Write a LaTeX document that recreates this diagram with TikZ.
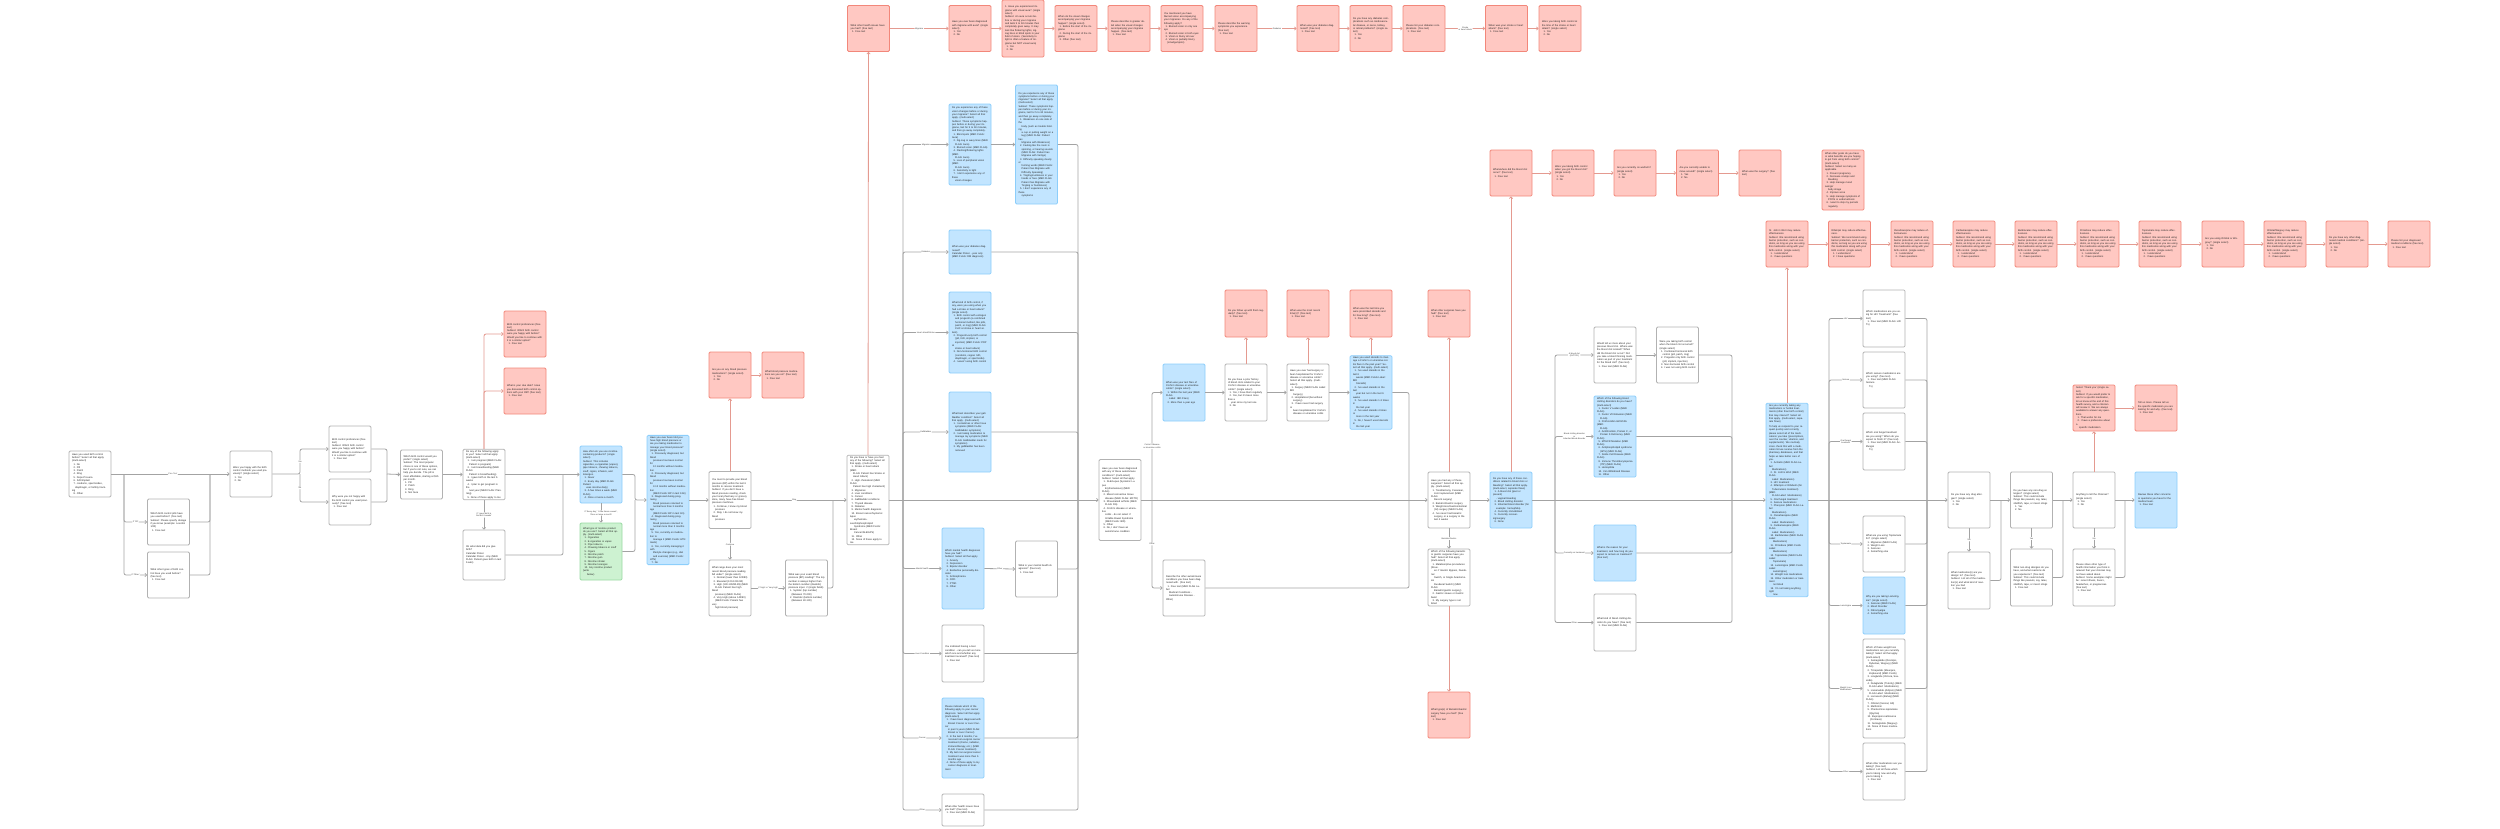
\documentclass[tikz,border=0pt]{standalone}
\usepackage{fontspec}
\setmainfont{Liberation Sans}
\usepackage{tikz}
\usetikzlibrary{arrows.meta,positioning,calc}

\definecolor{redfill}{HTML}{FFC8C2}
\definecolor{reddraw}{HTML}{F2877A}
\definecolor{redline}{HTML}{E49A90}
\definecolor{bluefill}{HTML}{C2E5FF}
\definecolor{bluedraw}{HTML}{8CCEFB}
\definecolor{greenfill}{HTML}{CDF2D1}
\definecolor{greendraw}{HTML}{98D9A3}
\definecolor{boxgray}{HTML}{B2B2B2}
\definecolor{linkgray}{HTML}{A3A3A3}

\newcommand{\opt}[1]{\\\hspace*{1.5pt}#1}

\begin{document}
\begin{tikzpicture}[x=1pt, y=-1pt, font=\fontsize{2.5}{3.3}\selectfont,
  qbox/.style={draw=boxgray, line width=0.8pt, rounded corners=1.2pt, fill=white,
    minimum width=42pt, minimum height=46pt, text width=36pt, inner xsep=3pt,
    inner ysep=1pt, align=left, text=black!85},
  redq/.style={qbox, draw=reddraw, fill=redfill},
  blueq/.style={qbox, draw=bluedraw, fill=bluefill},
  greenq/.style={qbox, draw=greendraw, fill=greenfill},
  mline/.style={draw=linkgray, line width=0.8pt, rounded corners=2pt},
  link/.style={mline, -{Straight Barb[length=1.6pt,width=3.4pt]}},
  rlink/.style={link, draw=redline},
  lbl/.style={fill=white, inner sep=0.6pt, font=\fontsize{2.1}{2.5}\selectfont,
    align=center, text=black!75}]

\useasboundingbox (0,0) rectangle (2500,828);

% --- birth control history
\node[qbox] (b1) at (90,474) {Have you used birth control before? Select all that apply. (multi-select)\opt{1. No}\opt{2. Pill}\opt{3. Patch}\opt{4. Ring}\opt{5. Depo-Provera}\opt{6. IUD/Implant}\opt{7. condoms, spermicides,}\opt{\ \ diaphragm, or fertility tracking}\opt{8. Other}};
\node[qbox] (b2) at (168.5,522) {Which birth control pills have you used before? (free text)\\Subtext: Please specify dosage if you know (example: Loestrin 1/20)\opt{1. Free text}};
\node[qbox] (b3) at (168.5,575) {What other types of birth control have you used before? (free text)\opt{1. Free text}};
\node[qbox] (b4) at (251,474) {Were you happy with the birth control methods you used previously? (single select)\opt{1. Yes}\opt{2. No}};
\node[qbox] (b5) at (350,449) {Birth control preferences (free text)\\Subtext: Which birth control were you happy with before? Would you like to continue with it or a similar option?\opt{1. Free text}};
\node[qbox] (b6) at (350,502) {Why were you not happy with the birth control you used previously? (free text)\opt{1. Free text}};
\node[qbox, minimum height=49] (b7) at (421.5,474.5) {Which birth control would you prefer? (single select)\\Subtext: The most popular choice is one of these options, but if you're not sure, we can help you decide. The pill is most affordable, starting at \$15 per month.\opt{1. Pill}\opt{2. Patch}\opt{3. Ring}\opt{4. Not Sure}};
\node[qbox, minimum height=49] (b8) at (484,474.5) {Do any of the following apply to you? Select all that apply. (multi-select)\opt{1. I am pregnant (MED FLAG:}\opt{\ \ Patient is pregnant)}\opt{2. I am breastfeeding (MED FLAG:}\opt{\ \ Patient is breastfeeding)}\opt{3. I gave birth in the last 6 weeks}\opt{4. I plan to get pregnant in the}\opt{\ \ next year (MED FLAG: Planning)}\opt{5. None of these apply to me}};
\node[qbox, minimum height=50] (b9) at (484,555) {On what date did you give birth?\\Calendar Picker\\Calendar Picker - Any (MED FLAG: Patient gave birth in last 6 wks)};
\node[redq] (r1) at (525,334) {Birth control preferences (free text)\\Subtext: Which birth control were you happy with before? Would you like to continue with it or a similar option?\opt{1. Free text}};
\node[redq] (r2) at (525,391) {What is your due date? Have you discussed birth control options with your OB? (free text)\opt{1. Free text}};

% --- nicotine and blood pressure
\node[blueq, minimum height=57] (b10) at (601,474.5) {How often do you use nicotine-containing products? (single select)\\Subtext: This includes cigarettes, e-cigarettes (vapes), pipe tobacco, chewing tobacco, snuff, cigars, inhalers, and lozenges.\opt{1. Never}\opt{2. Every day (MED FLAG: Patient}\opt{\ \ uses nicotine daily)}\opt{3. A few times a week (MED FLAG)}\opt{4. Once or twice a month}};
\node[greenq, minimum height=57] (b11) at (601,551.5) {What type of nicotine product do you use? Select all that apply. (multi-select)\opt{1. Cigarettes}\opt{2. E-cigarettes or vapes}\opt{3. Pipe tobacco}\opt{4. Chewing tobacco or snuff}\opt{5. Cigars}\opt{6. Nicotine patch}\opt{7. Nicotine gum}\opt{8. Nicotine inhaler}\opt{9. Nicotine lozenges}\opt{10. Any nicotine product (write}\opt{\ \ \ below)}};
\node[blueq, minimum height=108] (b12) at (668,500) {Have you ever been told you have high blood pressure or are you taking medication to manage your blood pressure? (single select)\opt{1. Previously diagnosed, but blood}\opt{\ \ pressure has been normal for}\opt{\ \ 12 months without medication}\opt{2. Previously diagnosed, but blood}\opt{\ \ pressure has been normal for}\opt{\ \ 3-12 months without medication}\opt{\ \ (MED FLAG: BP in last 12m)}\opt{3. Diagnosed during pregnancy,}\opt{\ \ blood pressure returned to}\opt{\ \ normal less than 3 months ago}\opt{\ \ (MED FLAG: BP in last 3m)}\opt{4. Diagnosed during pregnancy,}\opt{\ \ blood pressure returned to}\opt{\ \ normal more than 3 months ago}\opt{5. Yes, currently on medication to}\opt{\ \ manage it (MED FLAG: HTN meds)}\opt{6. Yes, currently managing it with}\opt{\ \ lifestyle changes (e.g., diet}\opt{\ \ and exercise) (MED FLAG: HTN)}\opt{7. No}};
\node[qbox, minimum height=57] (b13) at (730,500) {You must to provide your blood pressure (BP) within the last 6 months to receive treatment.\\Subtext: If you don't have a blood pressure reading, check your local pharmacy or grocery store, many have free blood pressure machines.\opt{1. Continue, I know my blood}\opt{\ \ pressure}\opt{2. Skip, I do not know my blood}\opt{\ \ pressure}};
\node[qbox, minimum height=56] (b15) at (730,588) {What range does your most recent blood pressure reading fall under? (single select)\opt{1. Normal (lower than 120/80)}\opt{2. Elevated (120-129/<80)}\opt{3. High (130-139/80-89) (MED}\opt{\ \ FLAG: Patient has high blood}\opt{\ \ pressure) (MED FLAG)}\opt{4. Very High (above 140/90)}\opt{\ \ (MED FLAG: Patient has very}\opt{\ \ high blood pressure)}};
\node[qbox, minimum height=56] (b16) at (806.5,588) {What was your exact blood pressure (BP) reading? The top number is always higher than the bottom number (diastolic) pressure input. 2 (single fields)\opt{1. Systolic (top number)}\opt{\ \ (Between 70-200)}\opt{2. Diastolic (bottom number)}\opt{\ \ (Between 40-130)}};
\node[redq] (r3) at (730,375) {Are you on any blood pressure medications? (single select)\opt{1. Yes}\opt{2. No}};
\node[redq] (r4) at (783,375) {What blood pressure medications are you on? (free text)\opt{1. Free text}};

% --- medical conditions
\node[qbox, minimum height=81] (b14) at (868,500) {Do you have or have you had any of the following? Select all that apply. (multi-select)\opt{1. Stroke or heart attack (MED}\opt{\ \ FLAG: Patient has Stroke or}\opt{\ \ Heart Attack)}\opt{2. High cholesterol (MED FLAG:}\opt{\ \ Patient has high cholesterol)}\opt{3. Migraines}\opt{4. Liver conditions}\opt{5. Cancer}\opt{6. Gallbladder conditions}\opt{7. Thyroid disease}\opt{8. Diabetes}\opt{9. Mental health diagnosis}\opt{10. Breast cancer/Systemic lupus}\opt{\ \ \ erythematosus/Antiphospholipid}\opt{\ \ \ Syndrome (MED FLAG: Breast}\opt{\ \ \ Cancer/SLE/APS)}\opt{11. Other}\opt{12. None of these apply to me}};

\node[redq] (r5) at (868.5,28.5) {What other health issues have you had? (free text)\opt{1. Free text}};
\node[redq] (r6) at (970,28.5) {Have you ever been diagnosed with migraine with aura? (single select)\opt{1. Yes}\opt{2. No}};
\node[redq, minimum height=57] (r7) at (1023,28.5) {1. Have you experienced migraine with visual aura? (single select)\\Subtext: An aura occurs before or during your migraine and lasts 5 to 60 minutes then completely goes away. It may look like flickering lights, zig-zag lines or blind spots in your field of vision. (Sensitivity to light is often a feature of migraine but NOT visual aura)\opt{1. Yes}\opt{2. No}};
\node[redq] (r8) at (1076,28.5) {When do the visual changes accompanying your migraine happen? (single select)\opt{1. Before the start of the migraine}\opt{2. During the start of the migraine}\opt{3. Other (free text)}};
\node[redq] (r9) at (1129,28.5) {Please describe in greater detail when the visual changes accompanying your migraine happen. (free text)\opt{1. Free text}};
\node[redq] (r10) at (1182,28.5) {You mentioned you have blurred vision accompanying your migraines. Do any of the following apply?\opt{1. Blurred vision in only one eye}\opt{2. Blurred vision in both eyes}\opt{3. Vision is blurry all over}\opt{4. Vision is partially blurry}\opt{\ \ (smudge/spots)}};
\node[redq] (r11) at (1236,28.5) {Please describe the warning symptoms you experience. (free text)\opt{1. Free text}};
\node[redq] (r12) at (1318,28.5) {When was your diabetes diagnosed? (free text)\opt{1. Free text}};
\node[redq] (r13) at (1371,28.5) {Do you have any diabetes complications such as cardiovascular disease, or nerve, kidney, or retinal problems? (single select)\opt{1. Yes}\opt{2. No}};
\node[redq] (r14) at (1424,28.5) {Please list your diabetes complications. (free text)\opt{1. Free text}};
\node[redq] (r15) at (1506.5,28.5) {When was your stroke or heart attack? (free text)\opt{1. Free text}};
\node[redq] (r16) at (1560,28.5) {Were you taking birth control at the time of the stroke or heart attack? (single select)\opt{1. Yes}\opt{2. No}};

\node[blueq, minimum height=81] (c1) at (970,144.5) {Do you experience any of these vision changes before or during your migraine? Select all that apply. (multi-select)\\Subtext: These symptoms happen before or during your migraine, last for 5 to 60 minutes, and then go away completely.\opt{1. Blind spots (MED FLAG: Aura)}\opt{2. Zig-zag or wavy lines (MED}\opt{\ \ FLAG: Aura)}\opt{3. Blurred vision (MED FLAG)}\opt{4. Flashing/flickering lights (MED}\opt{\ \ FLAG: Aura)}\opt{5. Loss of peripheral vision (MED}\opt{\ \ FLAG: Aura)}\opt{6. Sensitivity to light}\opt{7. I don't experience any of these}\opt{\ \ vision changes}};
\node[blueq, minimum height=119] (c2) at (1036.5,144.5) {Do you experience any of these symptoms before or during your migraine? Select all that apply. (multi-select)\\Subtext: These symptoms happen before or during your migraine, last for 5 to 60 minutes, and then go away completely.\opt{1. Weakness on one side of the}\opt{\ \ body (such as trouble holding}\opt{\ \ a cup or putting weight on a}\opt{\ \ leg) (MED FLAG: Patient has}\opt{\ \ Migraine with Weakness)}\opt{2. Feeling like the room is}\opt{\ \ spinning, or hearing sounds}\opt{\ \ (MED FLAG: Patient has}\opt{\ \ Migraine with Vertigo)}\opt{3. Difficulty speaking clearly or}\opt{\ \ forming words (MED FLAG:}\opt{\ \ Patient has Migraine with}\opt{\ \ Difficulty Speaking)}\opt{4. Tingling/numbness in your}\opt{\ \ hands or face (MED FLAG:}\opt{\ \ Patient has Migraine with}\opt{\ \ Tingling or Numbness)}\opt{5. I don't experience any of these}\opt{\ \ symptoms}};
\node[blueq, minimum height=44] (c3) at (970,252) {When was your diabetes diagnosed?\\Calendar Picker - year only (MED FLAG: DM diagnosis)};
\node[blueq, minimum height=81] (c4) at (970,332.5) {What kind of birth control, if any, were you using when you had a stroke or heart attack? (single select)\opt{1. Birth control with estrogen}\opt{\ \ and progestin (a combined}\opt{\ \ hormonal method, like pills,}\opt{\ \ patch, or ring) (MED FLAG:}\opt{\ \ CHC at stroke or heart attack)}\opt{2. Progestin-only birth control}\opt{\ \ (pill, IUD, implant, or}\opt{\ \ injection) (MED FLAG: POP at}\opt{\ \ stroke or heart attack)}\opt{3. Non-hormonal birth control}\opt{\ \ (condoms, copper IUD,}\opt{\ \ diaphragm, or spermicide)}\opt{4. I wasn't using birth control}};
\node[blueq, minimum height=80] (c5) at (970,432) {What best describes your gallbladder condition? Select all that apply. (multi-select)\opt{1. I sometimes or often have}\opt{\ \ symptoms (MED FLAG:}\opt{\ \ Gallbladder symptoms)}\opt{2. I am taking medication to}\opt{\ \ manage my symptoms (MED}\opt{\ \ FLAG: Gallbladder meds for}\opt{\ \ symptoms)}\opt{3. My gallbladder has been}\opt{\ \ removed}};
\node[blueq, minimum height=81] (c6) at (963,568.5) {Which mental health diagnoses have you had?\\Subtext: Select all that apply\opt{1. Anxiety}\opt{2. Depression}\opt{3. Bipolar disorder}\opt{4. Borderline personality disorder}\opt{5. Schizophrenia}\opt{6. OCD}\opt{7. PTSD}\opt{8. Other}};
\node[qbox, minimum height=56] (c7) at (1036.5,569) {What is your mental health diagnosis? (free text)\opt{1. Free text}};
\node[qbox, minimum height=57] (c8) at (963,653.5) {You indicated having a liver condition - can you tell us more which one and whether any treatment received? (free text)\opt{1. Free text}};
\node[blueq, minimum height=80] (c9) at (963,738) {Please indicate which of the following apply to your cancer diagnosis. Select all that apply. (multi-select)\opt{1. I have been diagnosed with}\opt{\ \ Breast Cancer or Liver Cancer}\opt{\ \ in past 5 years (MED FLAG:}\opt{\ \ Breast or Liver Cancer)}\opt{2. In the last 6 months, I've}\opt{\ \ received non-surgical cancer}\opt{\ \ treatment (chemo, radiation,}\opt{\ \ immunotherapy, etc.) (MED}\opt{\ \ FLAG: Cancer treatment)}\opt{3. My last non-surgical cancer}\opt{\ \ treatment was more than 6}\opt{\ \ months ago}\opt{4. None of these apply to my}\opt{\ \ cancer diagnosis or treatment}};
\node[qbox, minimum height=32] (c10) at (963,810) {What other health issues have you had? (free text)\opt{1. Free text (MED FLAG)}};

% --- autoimmune
\node[qbox, minimum height=81] (b17) at (1120,500) {Have you ever been diagnosed with any of these autoimmune conditions? (multi-select)\\Subtext: Select all that apply\opt{1. SLE/Lupus (Systemic Lupus}\opt{\ \ Erythematosus) (MED FLAG)}\opt{2. Mixed connective tissue}\opt{\ \ disease (MED FLAG: MCTD)}\opt{3. Rheumatoid arthritis (MED}\opt{\ \ FLAG: RA)}\opt{4. Crohn's disease or ulcerative}\opt{\ \ colitis - do not select if}\opt{\ \ Irritable Bowel Syndrome}\opt{\ \ (MED FLAG: IBD)}\opt{5. Other}\opt{6. No, I don't have an}\opt{\ \ autoimmune condition}};
\node[blueq, minimum height=57] (c11) at (1184,392.5) {When was your last flare of Crohn's disease or ulcerative colitis? (single select)\opt{1. Within the last year (MED FLAG}\opt{\ \ Label: IBD Flare)}\opt{2. More than a year ago}};
\node[qbox, minimum height=57] (c12) at (1246,392.5) {Do you have a prior history of blood clots related to your Crohn's disease or ulcerative colitis? (single select)\opt{1. Yes, I have them regularly}\opt{2. Yes, but it's been more than a}\opt{\ \ year since my last one}\opt{3. No}};
\node[qbox, minimum height=57] (c14) at (1308,392.5) {Have you ever had surgery or been hospitalized for Crohn's disease or ulcerative colitis? Select all that apply. (multi-select)\opt{1. Surgery (MED FLAG Label: IBD}\opt{\ \ Surgery)}\opt{2. Hospitalized (but without}\opt{\ \ surgery)}\opt{3. I have never had surgery or}\opt{\ \ been hospitalized for Crohn's}\opt{\ \ disease or ulcerative colitis}};
\node[blueq, minimum height=65] (c15) at (1371,392.5) {Have you used steroids to manage a Crohn's or ulcerative colitis flare in the past year? Select all that apply. (multi-select)\opt{1. I've used steroids in the last 6}\opt{\ \ weeks (MED FLAG Label: IBD}\opt{\ \ Steroids)}\opt{2. I've used steroids in the last}\opt{\ \ year but not in the last 6 weeks}\opt{3. I've used steroids 1-3 times in}\opt{\ \ the last year}\opt{4. I've used steroids 4 times or}\opt{\ \ more in the last year}\opt{5. No, I haven't used steroids in}\opt{\ \ the last year}};
\node[qbox, minimum height=56] (c13) at (1184,588) {Describe the other autoimmune conditions you have been diagnosed with. (free text)\opt{1. Free text (MED FLAG Label:}\opt{\ \ Medical Conditions -}\opt{\ \ Autoimmune Disease - Other)}};
\node[redq, minimum height=47] (r22) at (1246,313.5) {Do you follow up with them regularly? (free text)\opt{1. Free text}};
\node[redq, minimum height=47] (r23) at (1308,313.5) {When was the most recent time(s)? (free text)\opt{1. Free text}};
\node[redq, minimum height=47] (r24) at (1371,313.5) {When was the last time you were prescribed steroids and for how long? (free text)\opt{1. Free text}};
\node[redq, minimum height=47] (r25) at (1449,313.5) {What other surgeries have you had? (free text)\opt{1. Free text}};

% --- surgeries and blood clots
\node[qbox, minimum height=56] (b18) at (1449,500) {Have you had any of these surgeries? Select all that apply. (multi-select)\opt{1. Tonsillectomy, Cesarean,}\opt{\ \ Joint replacement (MED FLAG:}\opt{\ \ Recent surgery)}\opt{2. Bariatric/Gastric surgery}\opt{3. Weight-loss/Gastrointestinal}\opt{\ \ (GI) surgery (MED FLAG)}\opt{4. I've never had bariatric}\opt{\ \ surgery, or a surgery in the}\opt{\ \ last 4 weeks}};
\node[qbox, minimum height=57] (b19) at (1449,577.5) {Which of the following bariatric or gastric surgeries have you had? Select all that apply. (multi-select)\opt{1. Malabsorptive procedures (Roux-}\opt{\ \ en-Y Gastric Bypass, Duodenal}\opt{\ \ Switch, or Single Anastomosis}\opt{\ \ Duodenal Switch) (MED FLAG:}\opt{\ \ Bariatric/gastric surgery)}\opt{2. Gastric sleeve or Gastric band}\opt{3. My surgery type is not listed}};
\node[redq] (r40) at (1449,715) {What type(s) of Bariatric/Gastric surgery have you had? (free text)\opt{1. Free text}};
\node[blueq, minimum height=56] (b20) at (1511,500) {Do you have any of these conditions related to blood clots or bleeding? Select all that apply. (multi-select, separate flows)\opt{1. A blood clot (past or present)}\opt{\ \ - vaginal bleeding}\opt{2. Blood clotting disorder}\opt{3. Inherited blood disorder (for}\opt{\ \ example: hemophilia)}\opt{4. Currently immobilized}\opt{5. Currently recovering/surgery}\opt{6. None}};
\node[redq] (r17) at (1511,173) {When/where did the blood clot occur? (free text)\opt{1. Free text}};
\node[redq] (r18) at (1573,173) {Were you taking birth control when you got the blood clot? (single select)\opt{1. Yes}\opt{2. No}};
\node[redq] (r19) at (1635,173) {Are you currently on warfarin? (single select)\opt{1. Yes}\opt{2. No}};
\node[redq] (r20) at (1697.5,173) {Are you currently unable to move around? (single select)\opt{1. Yes}\opt{2. No}};
\node[redq] (r21) at (1760,173) {When was the surgery? (free text)};
\node[qbox, minimum height=56] (c17) at (1615,355) {Would tell us more about your previous blood clot. Where was the blood clot located? When did the blood clot occur? Did you take a blood thinning medication as part of your treatment for the blood clot? (free text)\opt{1. Free text (MED FLAG)}};
\node[qbox, minimum height=56] (c18) at (1677.5,355) {Were you taking birth control when the blood clot occurred? (single select)\opt{1. Combined hormonal birth}\opt{\ \ control (pill, patch, ring)}\opt{2. Progestin only birth control}\opt{\ \ (pill, implant, injection)}\opt{3. Non-hormonal birth control}\opt{4. I was not using birth control}};
\node[blueq, minimum height=81] (c16) at (1615,436.5) {Which of the following blood clotting disorders do you have? (multi-select)\opt{1. Factor V Leiden (MED FLAG)}\opt{2. Factor VIII Elevation (MED}\opt{\ \ FLAG)}\opt{3. Prothrombin G20210A (MED}\opt{\ \ FLAG)}\opt{4. Antithrombin, Protein C, or}\opt{\ \ Protein S Deficiency (MED FLAG)}\opt{5. MTHFR Mutation (MED FLAG)}\opt{6. Antiphospholipid syndrome}\opt{\ \ (APS) (MED FLAG)}\opt{7. Sickle Cell Disease (MED FLAG)}\opt{8. Immune Thrombocytopenia}\opt{\ \ (ITP) (MED FLAG)}\opt{9. Hemophilia}\opt{10. Von Willebrand Disease}\opt{11. Other}};
\node[blueq, minimum height=56] (c19) at (1615,553) {What is the reason for your treatment, and how long do you expect to remain on treatment? (free text)};
\node[qbox, minimum height=57] (c20) at (1615,622.5) {What kind of blood clotting disorder do you have? (free text)\opt{1. Free text (MED FLAG)}};

% --- medications
\node[blueq, minimum height=184] (b21) at (1787,500) {Are you currently taking any medications or herbal treatments (other than birth control) that may interact? Select all that apply. (multi-select, separate flows)\\[1.5pt]To help us respond to your request quickly and correctly, please select all of the medications you take (prescriptions, over the counter, vitamins, and supplements). We routinely cross check this with a medication list we receive from the pharmacy databases, and that helps us take better care of you.\opt{1. Acitretin (MED FLAG Label:}\opt{\ \ Medications)}\opt{2. St. John's Wort (MED FLAG}\opt{\ \ Label: Medications)}\opt{3. HIV treatment}\opt{4. Rifampin or Rifabutin (for}\opt{\ \ Tuberculosis treatment) (MED}\opt{\ \ FLAG Label: Medications)}\opt{5. Oral fungal treatment}\opt{6. Seizure medications}\opt{7. Phenytoin (MED FLAG Label:}\opt{\ \ Medications)}\opt{8. Oxcarbazepine (MED FLAG}\opt{\ \ Label: Medications)}\opt{9. Carbamazepine (MED FLAG}\opt{\ \ Label: Medications)}\opt{10. Barbiturates (MED FLAG Label:}\opt{\ \ \ Medications)}\opt{11. Primidone (MED FLAG Label:}\opt{\ \ \ Medications)}\opt{12. Topiramate (MED FLAG Label:}\opt{\ \ \ Topiramate)}\opt{13. Lamotrigine (MED FLAG Label:}\opt{\ \ \ Lamotrigine)}\opt{14. Weight loss medications}\opt{15. Other medication or treatment}\opt{\ \ \ not listed}\opt{16. I'm not taking anything right}\opt{\ \ \ now}};
\node[redq, minimum height=60] (r26) at (1843,180) {What other goals do you have or what benefits are you hoping to get from using birth control? (multi-select)\\Subtext: Select as many as applicable.\opt{1. Prevent pregnancy}\opt{2. Decrease cramps and}\opt{\ \ bleeding}\opt{3. Help manage mood swings/}\opt{\ \ body image}\opt{4. Improve acne}\opt{5. Help manage symptoms of}\opt{\ \ PCOS or endometriosis}\opt{6. I want to skip my periods}\opt{\ \ regularly}};
\node[redq] (r27) at (1787,244) {St. John's Wort may reduce effectiveness.\\Subtext: We recommend using barrier protection, such as condoms, as long as you are using this medication along with your birth control. (single select)\opt{1. I understand}\opt{2. I have questions}};
\node[redq] (r28) at (1849.5,244) {Rifampin may reduce effectiveness.\\Subtext: We recommend using barrier protection, such as condoms, as long as you are using this medication along with your birth control. (single select)\opt{1. I understand}\opt{2. I have questions}};
\node[redq] (r29) at (1912,244) {Oxcarbazepine may reduce effectiveness.\\Subtext: We recommend using barrier protection, such as condoms, as long as you are using this medication along with your birth control. (single select)\opt{1. I understand}\opt{2. I have questions}};
\node[redq] (r30) at (1974,244) {Carbamazepine may reduce effectiveness.\\Subtext: We recommend using barrier protection, such as condoms, as long as you are using this medication along with your birth control. (single select)\opt{1. I understand}\opt{2. I have questions}};
\node[redq] (r31) at (2036,244) {Barbiturates may reduce effectiveness.\\Subtext: We recommend using barrier protection, such as condoms, as long as you are using this medication along with your birth control. (single select)\opt{1. I understand}\opt{2. I have questions}};
\node[redq] (r32) at (2098,244) {Primidone may reduce effectiveness.\\Subtext: We recommend using barrier protection, such as condoms, as long as you are using this medication along with your birth control. (single select)\opt{1. I understand}\opt{2. I have questions}};
\node[redq] (r33) at (2160,244) {Topiramate may reduce effectiveness.\\Subtext: We recommend using barrier protection, such as condoms, as long as you are using this medication along with your birth control. (single select)\opt{1. I understand}\opt{2. I have questions}};
\node[redq] (r34) at (2223,244) {Are you using Orlistat or Wegovy? (single select)\opt{1. Yes}\opt{2. No}};
\node[redq] (r35) at (2285,244) {Orlistat/Wegovy may reduce effectiveness.\\Subtext: We recommend using barrier protection, such as condoms, as long as you are using this medication along with your birth control. (single select)\opt{1. I understand}\opt{2. I have questions}};
\node[redq] (r36) at (2347,244) {Do you have any other diagnosed medical conditions? (single select)\opt{1. Yes}\opt{2. No}};
\node[redq] (r37) at (2409,244) {Please list your diagnosed medical conditions (free text)\opt{1. Free text}};

\node[qbox, minimum height=57] (d1) at (1884,318.5) {Which medications are you using for HIV Treatment? (free text)\opt{1. Free text (MED FLAG: HIV Tx)}};
\node[qbox, minimum height=56] (d2) at (1884,380) {Which seizure medications are you using? (free text)\opt{1. Free text (MED FLAG: Seizure}\opt{\ \ Tx)}};
\node[qbox, minimum height=57] (d3) at (1884,441.5) {Which oral fungal treatment are you using? When do you expect to finish it? (free text)\opt{1. Free text (MED FLAG: Antifungal}\opt{\ \ Tx)}};
\node[qbox, minimum height=56] (d4) at (1884,544) {What are you using Topiramate for? (single select)\opt{1. Migraines (MED FLAG)}\opt{2. Weight Loss}\opt{3. Seizures}\opt{4. Something else}};
\node[blueq, minimum height=57] (d5) at (1884,605.5) {Why are you taking Lamotrigine? (single select)\opt{1. Seizures (MED FLAG)}\opt{2. Mood Disorder}\opt{3. Fibromyalgia}\opt{4. Something else}};
\node[qbox, minimum height=99] (d6) at (1884,688.5) {Which of these weight loss medications are you currently taking? Select all that apply. (multi-select)\opt{1. Semaglutide (Ozempic,}\opt{\ \ Rybelsus, Wegovy) (MED FLAG)}\opt{2. Tirzepatide (Mounjaro,}\opt{\ \ Zepbound) (MED FLAG)}\opt{3. Liraglutide (Victoza, Saxenda)}\opt{4. Dulaglutide (Trulicity) (MED}\opt{\ \ FLAG Label: Medications)}\opt{5. Lixisenatide (Adlyxin) (MED}\opt{\ \ FLAG Label: Medications)}\opt{6. Lorcaserin (Belviq) (MED FLAG)}\opt{7. Orlistat (Xenical, Alli)}\opt{8. Metformin}\opt{9. Phentermine-topiramate}\opt{\ \ (Qsymia)}\opt{10. Bupropion-naltrexone}\opt{\ \ \ (Contrave)}\opt{11. Semaglutide (Wegovy)}\opt{12. None of these medications}};
\node[qbox, minimum height=57] (d7) at (1884,771.5) {What other medications are you taking? (free text)\\Subtext: List all those which you're taking now and why you're taking it.\opt{1. Free text}};

% --- allergies and closing
\node[qbox, minimum height=56] (b22) at (1969,500) {Do you have any drug allergies? (single select)\opt{1. Yes}\opt{2. No}};
\node[qbox, minimum height=57] (b23) at (1969,580.5) {What medication(s) are you allergic to? (free text)\\Subtext: List all of the medication(s) and what kind of reaction you had\opt{1. Free text}};
\node[qbox, minimum height=56] (b24) at (2031.5,500) {Do you have any non-drug allergies? (single select)\\Subtext: This could include things like peanuts, soy, latex, shellfish, tape, or insect stings\opt{1. Yes}\opt{2. No}};
\node[qbox, minimum height=57] (b25) at (2031.5,577.5) {What non-drug allergies do you have, and what reactions do you experience? (free text)\\Subtext: This could include things like peanuts, soy, latex, shellfish, tape, or insect stings\opt{1. Free text}};
\node[qbox, minimum height=56] (b26) at (2094,500) {Anything to tell the Clinician? (single select)\opt{1. Yes}\opt{2. No}};
\node[qbox, minimum height=57] (b27) at (2094,577.5) {Please share other type of health information you think is relevant that your clinician may not have asked about.\\Subtext: Some examples might be: recent illness, fevers, headaches, or pregnancies. (free text)\opt{1. Free text}};
\node[blueq, minimum height=56] (b28) at (2156,500) {Review these other concerns or questions you have for the medical team.\opt{1. Free text}};
\node[redq] (r38) at (2094,408) {Select `Thank you' (single select)\\Subtext: If you would prefer to ask for a specific medication, let us know at the end of this health survey, and a clinician will review it. We are always available to answer any questions.\opt{1. That works for me}\opt{2. I have a preference about a}\opt{\ \ specific medication}};
\node[redq] (r39) at (2156,408) {Tell us more. Please tell us the specific medication you are looking for and why. (free text)\opt{1. Free text}};

% junctions
\coordinate (s1) at (124,474);
\coordinate (s0) at (210,474);
\coordinate (s2) at (300,474);
\coordinate (s3) at (387,474);
\coordinate (s4) at (563,474.5);
\coordinate (s5) at (635,500);
\coordinate (s6) at (833,500);
\coordinate (j1) at (903,500);
\coordinate (j2) at (1078,500);
\coordinate (j3) at (1152,500);
\coordinate (j4) at (1409,500);
\coordinate (j5) at (1555,500);
\coordinate (j6) at (1732,500);
\coordinate (j7) at (1829,500);
\coordinate (j8) at (1927,500);
\coordinate (j9) at (2001,500);
\coordinate (j10) at (2063,500);
\coordinate (j11) at (2125,500);

% connectors, left part
\draw[link] (b1.east) -- node[lbl, pos=0.52]{If no `Yes'} (b4.west);
\draw[link] (s1) |- node[lbl, pos=0.75]{If `Pill'} (b2.west);
\draw[link] (s1) |- node[lbl, pos=0.75]{If `Other'} (b3.west);
\draw[mline] (b2.east) -| (s0);
\draw[mline] (b3.east) -| (s0);
\draw[link] (b4.east) -- (s2) |- node[lbl, pos=0.25]{Yes} (b5.west);
\draw[link] (s2) |- node[lbl, pos=0.25]{No} (b6.west);
\draw[mline] (b5.east) -| (s3);
\draw[mline] (b6.east) -| (s3);
\draw[link] (s3) -- (b7.west);
\draw[link] (b7.east) -- (b8.west);
\draw[rlink] (b8.north) |- (r1.west);
\draw[rlink] (b8.north) |- (r2.west);
\draw[link] (b8.south) -- node[lbl]{If `I gave birth in\\the last 6 weeks'} (b9.north);
\draw[mline] (b9.east) -| (s4);
\draw[link] (b8.east) -- (b10.west);
\draw[link] (b10.south) -- node[lbl]{If `Every day', `A few times a week',\\`Once or twice a month'} (b11.north);
\draw[link] (b10.east) -| (s5) -- (b12.west);
\draw[mline] (b11.east) -| (s5);
\draw[link] (b12.east) -- (b13.west);
\draw[rlink] (b13.north) -- (r3.south);
\draw[rlink] (r3.east) -- (r4.west);
\draw[link] (b13.south) -- node[lbl]{Continue} (b15.north);
\draw[link] (b15.east) -- node[lbl]{If `High' or `Very high'} (b16.west);
\draw[mline] (b16.east) -| (s6);
\draw[link] (b13.east) -- node[lbl, pos=0.45]{Skip} (b14.west);

% red chain on top
\draw[rlink] (b14.north) -- (r5.south);
\draw[rlink] (r5.east) -- node[lbl]{Migraine} (r6.west);
\foreach \a/\b in {r6/r7, r7/r8, r8/r9, r9/r10, r10/r11, r12/r13, r13/r14, r15/r16}
  \draw[rlink] (\a.east) -- (\b.west);
\draw[rlink] (r11.east) -- node[lbl]{Diabetes} (r12.west);
\draw[rlink] (r14.east) -- node[lbl]{Stroke\\or heart attack} (r15.west);

% medical conditions
\draw[link] (b14.east) -- (b17.west);
\draw[link] (j1) |- node[lbl, pos=0.75]{Migraine} (c1.west);
\draw[link] (j1) |- node[lbl, pos=0.75]{Diabetes} (c3.west);
\draw[link] (j1) |- node[lbl, pos=0.75]{Heart attack/Stroke} (c4.west);
\draw[link] (j1) |- node[lbl, pos=0.75]{Gallbladder} (c5.west);
\draw[link] (j1) |- node[lbl, pos=0.75]{Mental health} (c6.west);
\draw[link] (j1) |- node[lbl, pos=0.75]{Liver Condition} (c8.west);
\draw[link] (j1) |- node[lbl, pos=0.75]{Cancer} (c9.west);
\draw[link] (j1) |- node[lbl, pos=0.75]{Other} (c10.west);
\draw[link] (c1.east) -- (c2.west);
\draw[link] (c6.east) -- node[lbl]{Other} (c7.west);
\foreach \n in {c2, c3, c4, c5, c7, c8, c9, c10}
  \draw[mline] (\n.east) -| (j2);

% autoimmune
\draw[link] (b17.east) -- (b18.west);
\draw[link] (j3) |- node[lbl, pos=0.25]{Crohn's disease\\or ulcerative colitis} (c11.west);
\draw[link] (j3) |- node[lbl, pos=0.25]{Other} (c13.west);
\draw[link] (c11.east) -- (c12.west);
\draw[link] (c12.east) -- (c14.west);
\draw[link] (c14.east) -- (c15.west);
\draw[mline] (c15.east) -| (j4);
\draw[mline] (c13.east) -| (j4);
\draw[rlink] (c12.north) -- (r22.south);
\draw[rlink] (c14.north) -- (r23.south);
\draw[rlink] (c15.north) -- (r24.south);

% surgeries, blood clots
\draw[rlink] (b18.north) -- (r25.south);
\draw[link] (b18.south) -- node[lbl]{Bariatric/Gastric} (b19.north);
\draw[rlink] (b19.south) -- (r40.north);
\draw[link] (b18.east) -- (b20.west);
\draw[rlink] (b20.north) -- (r17.south);
\foreach \a/\b in {r17/r18, r18/r19, r19/r20, r20/r21}
  \draw[rlink] (\a.east) -- (\b.west);
\draw[link] (b20.east) -- (b21.west);
\draw[link] (j5) |- node[lbl, pos=0.75]{A blood clot\\(DVT/PE)} (c17.west);
\draw[link] (j5) |- node[lbl, pos=0.75]{Blood clotting disorder\\or\\Inherited blood disorder} (c16.west);
\draw[link] (j5) |- node[lbl, pos=0.75]{Currently on treatment} (c19.west);
\draw[link] (j5) |- node[lbl, pos=0.75]{Other} (c20.west);
\draw[link] (c17.east) -- (c18.west);
\foreach \n in {c18, c16, c19, c20}
  \draw[mline] (\n.east) -| (j6);

% medications
\draw[rlink] (b21.north) -- (r27.south);
\foreach \a/\b in {r27/r28, r28/r29, r29/r30, r30/r31, r31/r32, r32/r33, r33/r34, r34/r35, r35/r36, r36/r37}
  \draw[rlink] (\a.east) -- (\b.west);
\draw[link] (b21.east) -- (b22.west);
\draw[link] (j7) |- node[lbl, pos=0.75]{HIV} (d1.west);
\draw[link] (j7) |- node[lbl, pos=0.75]{Seizure} (d2.west);
\draw[link] (j7) |- node[lbl, pos=0.75]{Oral fungal\\treatment} (d3.west);
\draw[link] (j7) |- node[lbl, pos=0.75]{Topiramate} (d4.west);
\draw[link] (j7) |- node[lbl, pos=0.75]{Lamotrigine} (d5.west);
\draw[link] (j7) |- node[lbl, pos=0.75]{Weight Loss\\Medications} (d6.west);
\draw[link] (j7) |- node[lbl, pos=0.75]{Other} (d7.west);
\foreach \n in {d1, d2, d3, d4, d5, d6, d7}
  \draw[mline] (\n.east) -| (j8);

% allergies
\draw[link] (b22.south) -- node[lbl]{Yes} (b23.north);
\draw[mline] (b23.east) -| (j9);
\draw[link] (b22.east) -- (b24.west);
\draw[link] (b24.south) -- node[lbl]{Yes} (b25.north);
\draw[mline] (b25.east) -| (j10);
\draw[link] (b24.east) -- (b26.west);
\draw[rlink] (b26.north) -- (r38.south);
\draw[rlink] (r38.east) -- (r39.west);
\draw[link] (b26.south) -- node[lbl]{Yes} (b27.north);
\draw[mline] (b27.east) -| (j11);
\draw[link] (b26.east) -- (b28.west);
\end{tikzpicture}
\end{document}
